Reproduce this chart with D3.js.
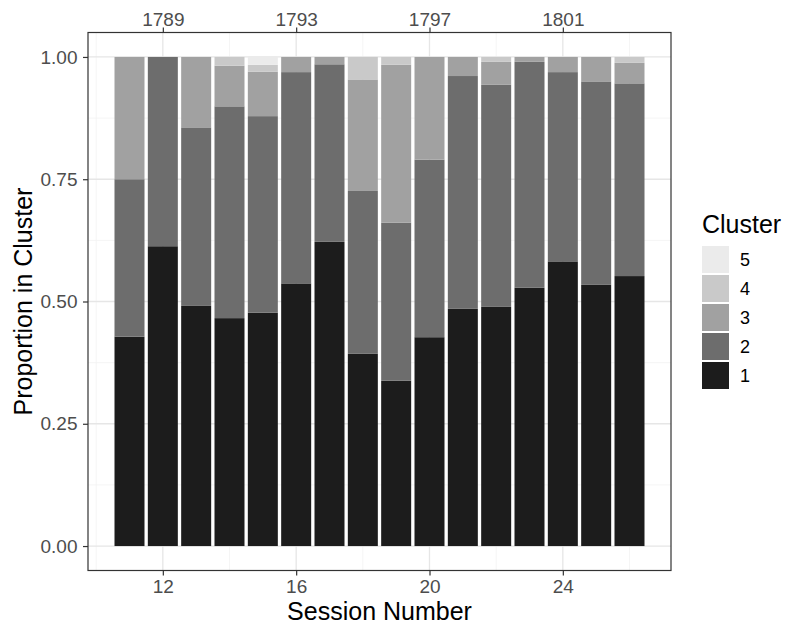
<!DOCTYPE html>
<html><head><meta charset="utf-8">
<script src="https://cdn.jsdelivr.net/npm/d3@7/dist/d3.min.js"></script>
<style>body{margin:0;background:#fff;} text{font-family:"Liberation Sans",Arial,sans-serif;}</style>
</head><body>
<svg id="chart" width="785" height="626"></svg>
<script>
const sessions = [11,12,13,14,15,16,17,18,19,20,21,22,23,24,25,26];
const cluster1 = [0.428,0.613,0.491,0.466,0.477,0.537,0.622,0.393,0.338,0.427,0.485,0.489,0.528,0.582,0.534,0.552];
const cluster2 = [0.322,0.387,0.365,0.433,0.402,0.432,0.363,0.333,0.323,0.363,0.476,0.454,0.462,0.387,0.416,0.394];
const cluster3 = [0.250,0.000,0.144,0.083,0.091,0.031,0.015,0.228,0.323,0.210,0.039,0.047,0.010,0.031,0.050,0.042];
const cluster4 = [0.000,0.000,0.000,0.018,0.014,0.000,0.000,0.046,0.016,0.000,0.000,0.010,0.000,0.000,0.000,0.012];
const cluster5 = [0.000,0.000,0.000,0.000,0.016,0.000,0.000,0.000,0.000,0.000,0.000,0.000,0.000,0.000,0.000,0.000];
const clusterNames = ["1","2","3","4","5"];
const xTicks = [12,16,20,24];
const yearLabels = ["1789","1793","1797","1801"];
const yTicks = [0,0.25,0.5,0.75,1];

const colors = ["#1c1c1c","#6d6d6d","#a1a1a1","#c9c9c9","#ebebeb"];
const series = [cluster1,cluster2,cluster3,cluster4,cluster5];

const svg = d3.select("#chart");
const L = 88, R = 671, T = 32.5, B = 570.5;
const x = d3.scaleLinear().domain([9.755, 27.245]).range([L, R]);
const y = d3.scaleLinear().domain([-0.05, 1.05]).range([B, T]);

// grid
const g = svg.append("g");
[10,14,18,22,26].forEach(v => g.append("line").attr("x1",x(v)).attr("x2",x(v)).attr("y1",T).attr("y2",B).attr("stroke","#f2f2f2").attr("stroke-width",0.8));
[0.125,0.375,0.625,0.875].forEach(v => g.append("line").attr("x1",L).attr("x2",R).attr("y1",y(v)).attr("y2",y(v)).attr("stroke","#f2f2f2").attr("stroke-width",0.8));
xTicks.forEach(v => g.append("line").attr("x1",x(v)).attr("x2",x(v)).attr("y1",T).attr("y2",B).attr("stroke","#e6e6e6").attr("stroke-width",1.3));
yTicks.forEach(v => g.append("line").attr("x1",L).attr("x2",R).attr("y1",y(v)).attr("y2",y(v)).attr("stroke","#e6e6e6").attr("stroke-width",1.3));

// bars
const data = sessions.map((s,i) => {
  const o = {session:s};
  clusterNames.forEach((c,k) => o[c] = series[k][i]);
  return o;
});
const stack = d3.stack().keys(clusterNames)(data);
const bw = x(0.9) - x(0);
stack.forEach((layer,k) => {
  svg.append("g").selectAll("rect").data(layer).join("rect")
    .attr("x", d => x(d.data.session) - bw/2)
    .attr("width", bw)
    .attr("y", d => y(d[1]))
    .attr("height", d => Math.max(0, y(d[0]) - y(d[1])))
    .attr("fill", colors[k]);
});

// panel border
svg.append("rect").attr("x",L).attr("y",T).attr("width",R-L).attr("height",B-T)
  .attr("fill","none").attr("stroke","#333").attr("stroke-width",1.2);

// axes
const axB = d3.axisBottom(x).tickValues(xTicks).tickSize(5).tickPadding(4).tickFormat(d3.format("d"));
const axT = d3.axisTop(x).tickValues(xTicks).tickSize(5).tickPadding(1.5).tickFormat((d,i) => yearLabels[i]);
const axL = d3.axisLeft(y).tickValues(yTicks).tickSize(5).tickPadding(5.5).tickFormat(d3.format(".2f"));
function style(sel){
  sel.select(".domain").remove();
  sel.selectAll(".tick line").attr("stroke","#333").attr("stroke-width",1.2);
  sel.selectAll(".tick text").attr("fill","#4d4d4d").style("font-size","19px");
}
svg.append("g").attr("transform",`translate(0,${B})`).call(axB).call(style);
svg.append("g").attr("transform",`translate(0,${T})`).call(axT).call(style);
svg.append("g").attr("transform",`translate(${L},0)`).call(axL).call(style);

// titles
svg.append("text").attr("x",(L+R)/2).attr("y",619.5).attr("text-anchor","middle")
  .style("font-size","25px").attr("fill","#000").text("Session Number");
svg.append("text").attr("transform",`translate(32,${(T+B)/2}) rotate(-90)`).attr("text-anchor","middle")
  .style("font-size","25px").attr("fill","#000").text("Proportion in Cluster");

// legend
const lg = svg.append("g");
lg.append("text").attr("x",702).attr("y",233).style("font-size","25px").attr("fill","#000").text("Cluster");
const order = [4,3,2,1,0];
order.forEach((k,i) => {
  const yy = 246 + i*29;
  lg.append("rect").attr("x",702).attr("y",yy).attr("width",27).attr("height",27).attr("fill",colors[k]);
  lg.append("text").attr("x",740).attr("y",yy+20).style("font-size","18px").attr("fill","#000").text(clusterNames[k]);
});
</script>
</body></html>
